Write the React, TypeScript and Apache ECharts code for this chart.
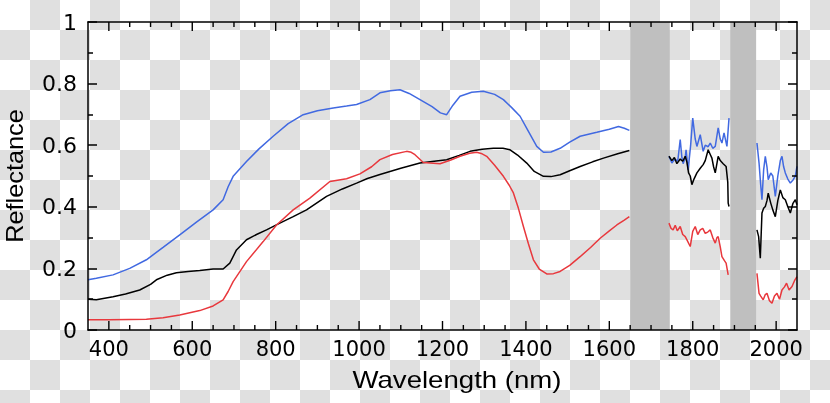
import React, { useEffect, useRef } from "react";
import * as echarts from "echarts";

// Wavelength (nm), reflectance pairs, per segment
const blueSeg1: [number, number][] = [
  [350, 0.163], [370, 0.168], [410, 0.179], [450, 0.2], [490, 0.228], [530, 0.268], [570, 0.309],
  [610, 0.35], [650, 0.39], [674, 0.423], [686, 0.465], [698, 0.499], [730, 0.547], [760, 0.588],
  [794, 0.629], [830, 0.67], [866, 0.699], [900, 0.712], [938, 0.721], [970, 0.727], [994, 0.732],
  [1026, 0.748], [1050, 0.77], [1075, 0.777], [1098, 0.78], [1120, 0.768], [1146, 0.748],
  [1175, 0.725], [1195, 0.705], [1210, 0.699], [1225, 0.73], [1242, 0.759], [1270, 0.772],
  [1298, 0.775], [1325, 0.765], [1346, 0.748], [1366, 0.722], [1386, 0.694], [1406, 0.645],
  [1426, 0.596], [1442, 0.577], [1460, 0.578], [1482, 0.59], [1505, 0.61], [1530, 0.629],
  [1570, 0.642], [1600, 0.652], [1622, 0.661], [1636, 0.655], [1648, 0.648],
];
const blueSeg2: [number, number][] = [
  [1743, 0.564], [1750, 0.542], [1757, 0.555], [1764, 0.548], [1770, 0.618], [1774, 0.56],
  [1777, 0.54], [1782, 0.56], [1784, 0.585], [1789, 0.52], [1795, 0.6], [1800, 0.688],
  [1806, 0.62], [1810, 0.596], [1818, 0.634], [1825, 0.58], [1830, 0.6], [1837, 0.595],
  [1842, 0.607], [1848, 0.59], [1854, 0.596], [1861, 0.656], [1866, 0.62], [1870, 0.607],
  [1875, 0.64], [1882, 0.596], [1887, 0.688],
];
const blueSeg3: [number, number][] = [
  [1954, 0.607], [1959, 0.542], [1963, 0.47], [1966, 0.423], [1970, 0.52], [1974, 0.564],
  [1978, 0.53], [1981, 0.488], [1987, 0.51], [1992, 0.5], [1998, 0.434], [2004, 0.5],
  [2010, 0.55], [2014, 0.564], [2018, 0.53], [2022, 0.51], [2028, 0.49], [2034, 0.477],
  [2041, 0.488], [2046, 0.5], [2050, 0.531],
];

const blackSeg1: [number, number][] = [
  [350, 0.1], [370, 0.098], [410, 0.108], [440, 0.117], [474, 0.13], [500, 0.148], [514, 0.163],
  [540, 0.178], [562, 0.186], [590, 0.19], [618, 0.193], [650, 0.198], [674, 0.198],
  [690, 0.217], [706, 0.26], [730, 0.293], [754, 0.31], [778, 0.325], [810, 0.347],
  [842, 0.368], [874, 0.39], [922, 0.434], [960, 0.458], [994, 0.477], [1020, 0.492],
  [1050, 0.505], [1100, 0.525], [1146, 0.542], [1180, 0.548], [1210, 0.553], [1240, 0.567],
  [1266, 0.58], [1295, 0.587], [1322, 0.59], [1345, 0.59], [1362, 0.585], [1380, 0.568],
  [1402, 0.542], [1420, 0.515], [1442, 0.499], [1460, 0.498], [1482, 0.504], [1505, 0.517],
  [1530, 0.531], [1560, 0.546], [1586, 0.558], [1620, 0.572], [1648, 0.583],
];
const blackSeg2: [number, number][] = [
  [1743, 0.564], [1750, 0.55], [1756, 0.56], [1762, 0.54], [1770, 0.555], [1776, 0.548],
  [1782, 0.564], [1786, 0.545], [1790, 0.51], [1794, 0.5], [1798, 0.472], [1803, 0.49],
  [1810, 0.51], [1818, 0.525], [1825, 0.537], [1830, 0.55], [1837, 0.585], [1842, 0.57],
  [1846, 0.558], [1850, 0.53], [1854, 0.51], [1861, 0.564], [1866, 0.55], [1873, 0.54],
  [1880, 0.531], [1884, 0.48], [1885, 0.412], [1887, 0.401],
];
const blackSeg3: [number, number][] = [
  [1954, 0.325], [1958, 0.303], [1962, 0.233], [1966, 0.38], [1970, 0.395], [1974, 0.401],
  [1978, 0.42], [1981, 0.444], [1987, 0.412], [1992, 0.39], [1998, 0.368], [2004, 0.42],
  [2010, 0.455], [2016, 0.43], [2022, 0.423], [2028, 0.4], [2034, 0.38], [2040, 0.41],
  [2046, 0.423], [2050, 0.407],
];

const redSeg1: [number, number][] = [
  [350, 0.033], [400, 0.033], [450, 0.034], [490, 0.035], [530, 0.04], [570, 0.049],
  [618, 0.063], [650, 0.078], [674, 0.098], [686, 0.125], [698, 0.157], [730, 0.222],
  [770, 0.287], [802, 0.341], [842, 0.39], [882, 0.428], [930, 0.482], [970, 0.491],
  [1002, 0.507], [1030, 0.53], [1050, 0.553], [1080, 0.57], [1114, 0.58], [1125, 0.577],
  [1134, 0.569], [1154, 0.544], [1194, 0.54], [1220, 0.552], [1242, 0.564], [1265, 0.574],
  [1282, 0.577], [1295, 0.572], [1306, 0.564], [1325, 0.535], [1346, 0.499], [1360, 0.47],
  [1370, 0.445], [1382, 0.395], [1394, 0.336], [1406, 0.28], [1418, 0.228], [1432, 0.198],
  [1450, 0.182], [1466, 0.183], [1482, 0.19], [1505, 0.21], [1530, 0.238], [1555, 0.268],
  [1578, 0.298], [1600, 0.322], [1618, 0.341], [1635, 0.356], [1648, 0.368],
];
const redSeg2: [number, number][] = [
  [1743, 0.347], [1748, 0.33], [1753, 0.325], [1758, 0.34], [1763, 0.322], [1770, 0.336],
  [1776, 0.31], [1782, 0.303], [1787, 0.29], [1794, 0.271], [1800, 0.32], [1806, 0.336],
  [1812, 0.31], [1818, 0.325], [1824, 0.33], [1830, 0.314], [1836, 0.318], [1842, 0.325],
  [1848, 0.3], [1854, 0.282], [1858, 0.3], [1861, 0.303], [1866, 0.27], [1870, 0.238],
  [1876, 0.225], [1880, 0.217], [1885, 0.179],
];
const redSeg3: [number, number][] = [
  [1954, 0.184], [1959, 0.119], [1963, 0.11], [1969, 0.098], [1974, 0.115], [1978, 0.119],
  [1984, 0.095], [1990, 0.087], [1996, 0.11], [2002, 0.119], [2008, 0.1], [2014, 0.13],
  [2020, 0.14], [2025, 0.152], [2031, 0.13], [2038, 0.141], [2044, 0.16], [2050, 0.173],
];

// Gray excluded bands (nm)
const bands: [number, number][] = [
  [1650, 1745],
  [1890, 1952],
];

// X-axis tick values (nm)
const majorX = [400, 600, 800, 1000, 1200, 1400, 1600, 1800, 2000];
const minorX = [450, 500, 550, 650, 700, 750, 850, 900, 950, 1050, 1100, 1150, 1250, 1300, 1350,
  1450, 1500, 1550, 1650, 1700, 1750, 1850, 1900, 1950];

const BLUE = "#4169e1";
const RED = "#e8383d";
const BLACK = "#000000";
const FONT = "Liberation Sans, Arial, Helvetica, sans-serif";
const LABEL_FONT = "DejaVu Sans, sans-serif";

export default function App() {
  const ref = useRef<HTMLDivElement>(null);
  useEffect(() => {
    if (!ref.current) return;
    const chart = echarts.init(ref.current, undefined, { renderer: "svg" });
    const line = (data: [number, number][], color: string) => ({
      type: "line",
      data,
      showSymbol: false,
      symbol: "none",
      lineStyle: { color, width: 1.5 },
      z: 3,
    });
    const tickSeries = (values: number[], len: number) => ({
      type: "custom",
      z: 12,
      clip: false,
      silent: true,
      data: values.map((v) => [v, 0.5]),
      renderItem: (_p: any, api: any) => {
        const x = api.value(0);
        const b = api.coord([x, 0]);
        const t = api.coord([x, 1]);
        return {
          type: "group",
          children: [
            {
              type: "rect",
              shape: { x: b[0] - 0.7, y: b[1] - len, width: 1.4, height: len },
              style: { fill: "#000" },
            },
            {
              type: "rect",
              shape: { x: t[0] - 0.7, y: t[1], width: 1.4, height: len },
              style: { fill: "#000" },
            },
          ],
        };
      },
    });
    const bandSeries = {
      type: "custom",
      z: 1,
      silent: true,
      clip: false,
      data: bands.map(([a, b]) => [a, b, 0.5]),
      renderItem: (_p: any, api: any) => {
        const p0 = api.coord([api.value(0), 1]);
        const p1 = api.coord([api.value(1), 0]);
        return {
          type: "rect",
          shape: { x: p0[0], y: p0[1], width: p1[0] - p0[0], height: p1[1] - p0[1] },
          style: { fill: "#bfbfbf" },
        };
      },
      encode: { x: [0, 1], y: 2 },
    };
    const xBase = {
      type: "value",
      min: 350,
      max: 2050,
      z: 10,
      splitLine: { show: false },
      axisTick: { show: false },
    };
    const yAxisCfg = (pos: string, withLabel: boolean) => ({
      type: "value",
      min: 0,
      max: 1,
      interval: 0.2,
      z: 10,
      position: pos,
      splitLine: { show: false },
      axisLine: { show: true, onZero: false, lineStyle: { color: "#000", width: 1.5 } },
      axisTick: { show: true, inside: true, length: 9, lineStyle: { color: "#000", width: 1.5 } },
      minorTick: { show: true, splitNumber: 2, length: 5, lineStyle: { color: "#000", width: 1.5 } },
      axisLabel: withLabel
        ? {
            color: "#000",
            fontSize: 22,
            fontFamily: LABEL_FONT,
            margin: 11,
            formatter: (v: number) => String(Math.round(v * 10) / 10),
          }
        : { show: false },
    });
    chart.setOption({
      animation: false,
      backgroundColor: "transparent",
      grid: { left: 88, top: 22, width: 709, height: 308 },
      xAxis: [
        {
          ...xBase,
          position: "bottom",
          axisLine: { show: true, onZero: false, lineStyle: { color: "#000", width: 1.5 } },
          axisLabel: {
            show: true,
            customValues: majorX,
            color: "#000",
            fontSize: 21,
            fontFamily: LABEL_FONT,
            margin: 8,
            formatter: (v: number) => String(v),
          },
        },
        {
          ...xBase,
          position: "top",
          axisLine: { show: true, onZero: false, lineStyle: { color: "#000", width: 1.5 } },
          axisLabel: { show: false },
        },
      ],
      yAxis: [yAxisCfg("left", true), yAxisCfg("right", false)],
      series: [
        bandSeries,
        line(blueSeg1, BLUE),
        line(blueSeg2, BLUE),
        line(blueSeg3, BLUE),
        line(blackSeg1, BLACK),
        line(blackSeg2, BLACK),
        line(blackSeg3, BLACK),
        line(redSeg1, RED),
        line(redSeg2, RED),
        line(redSeg3, RED),
        tickSeries(majorX, 9),
        tickSeries(minorX, 5),
      ],
      graphic: [
        {
          type: "text",
          x: 457,
          y: 380,
          scaleX: 1.2,
          style: {
            text: "Wavelength (nm)",
            font: `23px ${FONT}`,
            fill: "#000",
            align: "center",
            verticalAlign: "middle",
          },
        },
        {
          type: "text",
          x: 15,
          y: 176,
          rotation: Math.PI / 2,
          scaleX: 1.1,
          style: {
            text: "Reflectance",
            font: `23px ${FONT}`,
            fill: "#000",
            align: "center",
            verticalAlign: "middle",
          },
        },
      ],
    });
    return () => chart.dispose();
  }, []);
  return (
    <div
      style={{
        position: "fixed",
        left: 0,
        top: 0,
        width: 830,
        height: 403,
        background: "repeating-conic-gradient(#e0e0e0 0% 25%, #ffffff 0% 50%) 0 0 / 60px 60px",
      }}
    >
      <div ref={ref} style={{ width: 830, height: 403 }} />
    </div>
  );
}
